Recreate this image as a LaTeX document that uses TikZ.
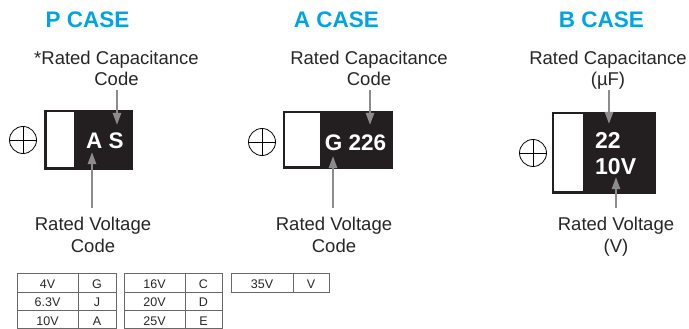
\documentclass[tikz,border=0pt]{standalone}
\usepackage{fontspec}
\setmainfont{Liberation Sans}
\usetikzlibrary{arrows.meta}
\definecolor{titlecyan}{RGB}{0,164,226}
\definecolor{boxblack}{RGB}{35,31,32}
\definecolor{arrowgray}{RGB}{140,140,140}
\definecolor{tablegray}{RGB}{105,105,105}
\tikzset{
  title/.style={font=\fontsize{22.5}{26}\selectfont\bfseries, text=titlecyan, anchor=base, inner sep=0pt},
  lbl/.style={font=\fontsize{18.5}{21.5}\selectfont, align=center, anchor=base, inner sep=0pt, text=black!85},
  capmark/.style={font=\fontsize{22.5}{27}\selectfont\bfseries, text=white, anchor=base, inner sep=0pt},
  capmarkl/.style={font=\fontsize{23}{27}\selectfont\bfseries, text=white, anchor=base west, inner sep=0pt},
  body/.style={fill=boxblack, draw=boxblack},
  band/.style={fill=white, draw=none},
  plus/.style={draw=black, line width=0.8pt, circle, minimum size=27pt, inner sep=0pt},
  ptr/.style={draw=arrowgray, line width=2.4pt, -{Triangle[length=12pt,width=8pt]}},
  tbl/.style={draw=tablegray, line width=0.8pt},
  cell/.style={font=\fontsize{12.5}{14}\selectfont, anchor=base, inner sep=0pt, text=black!85}
}
\begin{document}
\begin{tikzpicture}[x=1pt,y=-1pt]
\useasboundingbox (0,0) rectangle (689,329);

% ---------- P CASE ----------
\node[title] (tP) at (87.5,28) {P CASE};
\node[lbl] (cP) at (116.5,86) {*Rated Capacitance\\Code};
\path[body] (44,110) rectangle (132,169);
\path[band] (46.5,112.5) rectangle (74,166.5);
\node[plus] (pP) at (23,140) {};
\draw (pP.west) -- (pP.east) (pP.north) -- (pP.south);
\node[capmark] (mP) at (105,148) {A S};
\node[lbl] (vP) at (93,252) {Rated Voltage\\Code};
\coordinate (cPs) at (117,90);
\coordinate (cPe) at (117,125);
\coordinate (vPs) at (92,208);
\coordinate (vPe) at (92,152);
\draw[ptr] (cPs) -- (cPe);
\draw[ptr] (vPs) -- (vPe);

% ---------- A CASE ----------
\node[title] (tA) at (336.5,28) {A CASE};
\node[lbl] (cA) at (369,86) {Rated Capacitance\\Code};
\path[body] (283,111) rectangle (392,168);
\path[band] (285,113) rectangle (320,166);
\node[plus] (pA) at (262,142) {};
\draw (pA.west) -- (pA.east) (pA.north) -- (pA.south);
\node[capmark] (mA) at (355.5,150) {G 226};
\node[lbl] (vA) at (334,252) {Rated Voltage\\Code};
\coordinate (cAs) at (370,90);
\coordinate (cAe) at (370,125);
\coordinate (vAs) at (333,208);
\coordinate (vAe) at (333,156);
\draw[ptr] (cAs) -- (cAe);
\draw[ptr] (vAs) -- (vAe);

% ---------- B CASE ----------
\node[title] (tB) at (601.5,28) {B CASE};
\node[lbl] (cB) at (608,86) {Rated Capacitance\\(µF)};
\path[body] (552,112) rectangle (655,193);
\path[band] (554,114) rectangle (583,191);
\node[plus] (pB) at (533,153) {};
\draw (pB.west) -- (pB.east) (pB.north) -- (pB.south);
\node[capmarkl] (mB1) at (595,148) {22};
\node[capmarkl] (mB2) at (595,175) {10V};
\node[lbl] (vB) at (616,252) {Rated Voltage\\(V)};
\coordinate (cBs) at (609,90);
\coordinate (cBe) at (609,124);
\coordinate (vBs) at (616,208);
\coordinate (vBe) at (616,177);
\draw[ptr] (cBs) -- (cBe);
\draw[ptr] (vBs) -- (vBe);

% ---------- Tables ----------
\draw[tbl] (17,273) rectangle (116,328.6);
\draw[tbl] (78,273) -- (78,328.6);
\draw[tbl] (17,292.5) -- (116,292.5) (17,310.5) -- (116,310.5);
\node[cell] at (47.5,288.5) {4V};
\node[cell] at (97,288.5) {G};
\node[cell] at (47.5,306.5) {6.3V};
\node[cell] at (97,306.5) {J};
\node[cell] at (47.5,325) {10V};
\node[cell] at (97,325) {A};

\draw[tbl] (124,273) rectangle (222,328.6);
\draw[tbl] (185,273) -- (185,328.6);
\draw[tbl] (124,292.5) -- (222,292.5) (124,310.5) -- (222,310.5);
\node[cell] at (154.5,288.5) {16V};
\node[cell] at (203.5,288.5) {C};
\node[cell] at (154.5,306.5) {20V};
\node[cell] at (203.5,306.5) {D};
\node[cell] at (154.5,325) {25V};
\node[cell] at (203.5,325) {E};

\draw[tbl] (231,273) rectangle (329,292.5);
\draw[tbl] (293,273) -- (293,292.5);
\node[cell] at (262,288.5) {35V};
\node[cell] at (311,288.5) {V};
\end{tikzpicture}
\end{document}
